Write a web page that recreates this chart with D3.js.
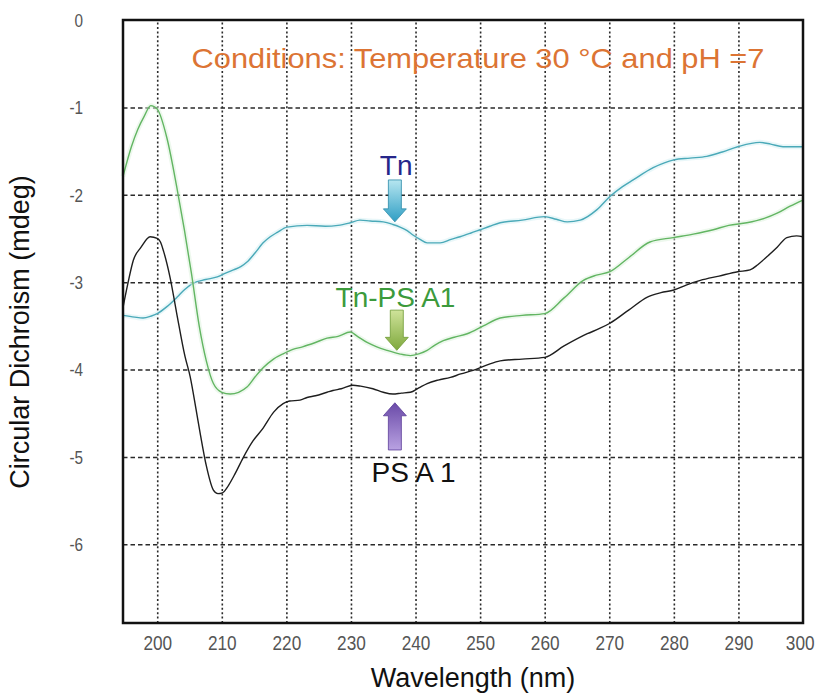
<!DOCTYPE html>
<html>
<head>
<meta charset="utf-8">
<script src="https://cdn.jsdelivr.net/npm/d3@7"></script>
<style>
  html, body { margin: 0; padding: 0; background: #fff; }
  svg { display: block; }
</style>
</head>
<body>
<svg id="chart" width="818" height="695"></svg>
<script>
// ---- Data ----
const xTicks = [200, 210, 220, 230, 240, 250, 260, 270, 280, 290, 300];
const yTicks = [0, -1, -2, -3, -4, -5, -6];

const tnWavelength = [194.7,196.5,197.8,199.0,200.0,201.5,203.1,204.3,205.6,207.5,209.3,210.5,211.8,213.0,213.9,215.2,216.4,217.5,218.6,220.1,223.2,226.0,228.0,229.9,231.4,233.0,235.0,236.5,237.6,238.7,239.6,240.7,241.8,243.8,245.5,246.9,248.5,250.0,251.5,253.1,256.5,260.0,261.8,263.5,265.5,268.1,270.1,272.0,273.7,276.8,280.0,282.5,285.1,287.5,289.9,293.3,295.0,296.9,300.0];
const tnValues = [-3.38,-3.40,-3.41,-3.39,-3.36,-3.28,-3.17,-3.08,-3.01,-2.97,-2.94,-2.90,-2.86,-2.82,-2.77,-2.66,-2.55,-2.48,-2.43,-2.37,-2.35,-2.36,-2.35,-2.32,-2.29,-2.30,-2.31,-2.34,-2.37,-2.41,-2.46,-2.51,-2.55,-2.55,-2.51,-2.48,-2.44,-2.40,-2.36,-2.32,-2.29,-2.25,-2.28,-2.31,-2.29,-2.17,-2.02,-1.91,-1.83,-1.69,-1.60,-1.58,-1.56,-1.51,-1.45,-1.40,-1.42,-1.45,-1.45];

const tnpsWavelength = [194.7,196.0,197.0,198.0,199.0,200.0,201.5,203.0,204.2,205.3,206.5,207.6,208.7,210.0,211.3,212.6,213.9,215.2,216.4,218.0,219.5,221.0,222.5,224.5,226.3,228.0,229.9,231.0,232.5,234.0,235.6,237.5,239.2,240.5,241.8,243.0,244.3,246.0,248.0,250.5,253.1,256.5,260.0,263.0,266.0,268.0,270.1,273.0,276.3,279.9,283.0,286.1,288.5,291.3,294.0,296.0,298.0,300.0];
const tnpsValues = [-1.79,-1.45,-1.25,-1.10,-0.98,-1.02,-1.35,-1.90,-2.40,-2.90,-3.50,-3.90,-4.16,-4.26,-4.28,-4.26,-4.20,-4.08,-3.98,-3.88,-3.82,-3.77,-3.74,-3.69,-3.64,-3.62,-3.57,-3.62,-3.69,-3.74,-3.78,-3.82,-3.84,-3.82,-3.78,-3.72,-3.67,-3.63,-3.59,-3.50,-3.41,-3.38,-3.36,-3.18,-2.98,-2.92,-2.88,-2.72,-2.54,-2.49,-2.45,-2.40,-2.35,-2.32,-2.27,-2.21,-2.13,-2.06];

const psWavelength = [194.7,195.5,196.3,197.5,198.9,200.0,200.5,201.0,202.0,203.0,204.3,205.1,206.0,206.7,207.6,208.7,209.4,210.1,211.0,212.0,213.3,214.8,216.4,218.0,219.5,220.5,222.1,223.2,224.5,226.3,227.2,228.5,230.3,231.5,233.4,235.0,236.5,237.8,239.2,240.5,241.8,243.5,245.4,247.0,248.9,251.0,253.1,256.5,260.0,263.0,266.6,268.5,270.1,273.0,275.9,278.0,280.0,282.0,284.1,287.0,289.9,291.8,293.0,294.4,296.0,297.5,299.0,300.0];
const psValues = [-3.29,-3.00,-2.75,-2.60,-2.48,-2.50,-2.54,-2.65,-2.95,-3.35,-3.85,-4.08,-4.45,-4.75,-5.10,-5.38,-5.42,-5.41,-5.33,-5.20,-5.01,-4.82,-4.67,-4.49,-4.39,-4.36,-4.35,-4.32,-4.30,-4.26,-4.24,-4.22,-4.18,-4.19,-4.22,-4.26,-4.28,-4.27,-4.26,-4.21,-4.16,-4.12,-4.09,-4.05,-4.01,-3.95,-3.90,-3.88,-3.86,-3.73,-3.59,-3.53,-3.47,-3.32,-3.17,-3.12,-3.09,-3.03,-2.98,-2.93,-2.88,-2.86,-2.80,-2.71,-2.60,-2.49,-2.47,-2.48];

const seriesNames = ["Tn", "Tn-PS A1", "PS A 1"];
const titleText = "Conditions: Temperature 30 \u00B0C  and pH =7";
const xLabel = "Wavelength (nm)";
const yLabel = "Circular Dichroism (mdeg)";

// ---- Layout ----
const svg = d3.select("#chart");
const L = 123, R = 803, T = 20, B = 623;
const x = d3.scaleLinear().domain([194.7, 300]).range([L, R]);
const y = d3.scaleLinear().domain([0, -6.9]).range([T, B]);

const defs = svg.append("defs");
function grad(id, c1, c2) {
  const g = defs.append("linearGradient").attr("id", id)
    .attr("x1", "0").attr("y1", "0").attr("x2", "0").attr("y2", "1");
  g.append("stop").attr("offset", "0%").attr("stop-color", c1);
  g.append("stop").attr("offset", "100%").attr("stop-color", c2);
}
grad("gTn", "#b6e6f0", "#2f9ec4");
grad("gTnPs", "#cfe39a", "#7ea83c");
grad("gPs", "#6a4aa8", "#b9a2e2");

// Gridlines
const gridV = svg.append("g").attr("transform", `translate(0,${B})`)
  .call(d3.axisBottom(x).tickValues(xTicks.filter(d => d < 300)).tickSize(-(B - T)).tickFormat(""));
gridV.select(".domain").remove();
gridV.selectAll("line").attr("stroke", "#2a2a2a").attr("stroke-width", 1.6).attr("stroke-dasharray", "2,2.4");

const gridH = svg.append("g").attr("transform", `translate(${L},0)`)
  .call(d3.axisLeft(y).tickValues(yTicks.filter(d => d < 0)).tickSize(-(R - L)).tickFormat(""));
gridH.select(".domain").remove();
gridH.selectAll("line").attr("stroke", "#2a2a2a").attr("stroke-width", 1.5).attr("stroke-dasharray", "4.5,3");

// Tick labels (condensed look via horizontal scaling)
const xAx = svg.append("g").attr("transform", `translate(0,${B})`)
  .call(d3.axisBottom(x).tickValues(xTicks).tickSize(0).tickPadding(0));
xAx.select(".domain").remove();
xAx.selectAll("text").attr("y", 27).attr("dy", 0)
  .attr("x", d => d === 300 ? -4 : 0)
  .attr("transform", "scale(0.82,1)")
  .attr("font-family", "'Liberation Sans', Arial, sans-serif")
  .attr("font-size", 21).attr("fill", "#555");

const yAx = svg.append("g").attr("transform", `translate(83,0)`)
  .call(d3.axisLeft(y).tickValues(yTicks).tickSize(0).tickPadding(0));
yAx.select(".domain").remove();
yAx.selectAll("text").attr("x", 0).attr("dy", "0.35em")
  .attr("transform", "scale(0.85,1)")
  .attr("font-family", "'Liberation Sans', Arial, sans-serif")
  .attr("font-size", 18).attr("fill", "#555")
  .text(d => d < 0 ? "-" + Math.abs(d) : String(d));

// Curves
const line = d3.line().x(d => x(d[0])).y(d => y(d[1])).curve(d3.curveMonotoneX);
function pts(xs, ys) { return xs.map((v, i) => [v, ys[i]]); }
const series = [
  { name: seriesNames[0], data: pts(tnWavelength, tnValues), color: "#4aa9b8", glow: "#d3eff4" },
  { name: seriesNames[1], data: pts(tnpsWavelength, tnpsValues), color: "#62b562", glow: "#dcf2dc" },
  { name: seriesNames[2], data: pts(psWavelength, psValues), color: "#1e1e1e", glow: null }
];
const cg = svg.append("g");
series.forEach(s => {
  if (s.glow) {
    cg.append("path").attr("d", line(s.data)).attr("fill", "none")
      .attr("stroke", s.glow).attr("stroke-width", 5).attr("stroke-opacity", 0.5);
  }
  cg.append("path").attr("d", line(s.data)).attr("fill", "none")
    .attr("stroke", s.color).attr("stroke-width", 1.4);
});

// Frame
svg.append("rect").attr("x", L).attr("y", T).attr("width", R - L).attr("height", B - T)
  .attr("fill", "none").attr("stroke", "#111").attr("stroke-width", 2.5);

// Title
svg.append("text").attr("x", 478).attr("y", 68).attr("text-anchor", "middle")
  .attr("font-family", "'Liberation Sans', Arial, sans-serif").attr("font-size", 28)
  .attr("fill", "#dc7434").attr("textLength", 573).attr("lengthAdjust", "spacingAndGlyphs")
  .text(titleText);

// Annotations: arrows + labels (wavelength / value anchors)
const arrows = [
  { wl: 236.8, from: -1.83, to: -2.31, fill: "url(#gTn)", stroke: "#2a8aa8" },
  { wl: 237.1, from: -3.32, to: -3.78, fill: "url(#gTnPs)", stroke: "#6f9a34" },
  { wl: 236.8, from: -4.92, to: -4.38, fill: "url(#gPs)", stroke: "#5a3c98" }
];
arrows.forEach(a => {
  const cx = x(a.wl), y0 = y(a.from), y1 = y(a.to);
  const dir = y1 > y0 ? 1 : -1;
  const sw = 6.5, hw = 11.5, hl = 13;
  const yh = y1 - dir * hl;
  const p = `M${cx - sw},${y0} L${cx + sw},${y0} L${cx + sw},${yh} L${cx + hw},${yh} L${cx},${y1} L${cx - hw},${yh} L${cx - sw},${yh} Z`;
  svg.append("path").attr("d", p).attr("fill", a.fill).attr("stroke", a.stroke).attr("stroke-width", 0.8);
});

const labels = [
  { text: seriesNames[0], wl: 237.0, v: -1.77, color: "#26268a" },
  { text: seriesNames[1], wl: 236.9, v: -3.28, color: "#3c9a3c" },
  { text: seriesNames[2], wl: 239.7, v: -5.29, color: "#111" }
];
labels.forEach(l => {
  svg.append("text").attr("x", x(l.wl)).attr("y", y(l.v)).attr("text-anchor", "middle")
    .attr("font-family", "'Liberation Sans', Arial, sans-serif").attr("font-size", 28)
    .attr("fill", l.color).text(l.text);
});

// Axis titles
svg.append("text").attr("x", 473).attr("y", 687).attr("text-anchor", "middle")
  .attr("font-family", "'Liberation Sans', Arial, sans-serif").attr("font-size", 27)
  .attr("fill", "#111").text(xLabel);
svg.append("text").attr("transform", "translate(29,332) rotate(-90)").attr("text-anchor", "middle")
  .attr("font-family", "'Liberation Sans', Arial, sans-serif").attr("font-size", 27)
  .attr("fill", "#111").text(yLabel);
</script>
</body>
</html>
